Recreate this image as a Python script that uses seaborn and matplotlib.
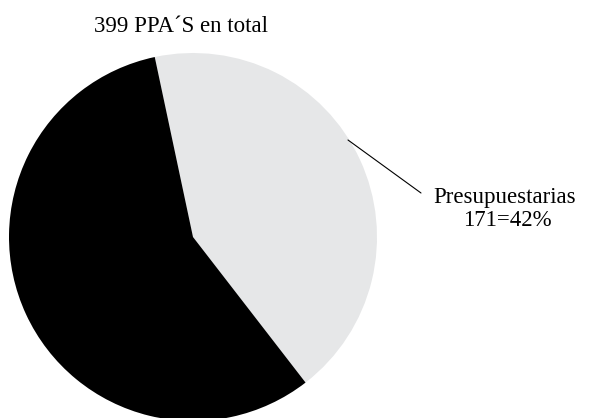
import matplotlib
matplotlib.use("Agg")
import matplotlib.pyplot as plt
import seaborn as sns

# Data
categories = ["Presupuestarias", "Otras"]
values = [171, 228]
total = 399
title_text = "399 PPA´S en total"
label_line1 = "Presupuestarias"
label_line2 = "171=42%"

sns.set_theme(style="white")
plt.rcParams['font.family'] = ['Liberation Serif', 'DejaVu Serif']

colors = ["#E6E7E8", "#000000"]

W, H = 591, 418
fig = plt.figure(figsize=(W / 100, H / 100), dpi=100)
fig.patch.set_facecolor("white")

cx, cy, r = 193, 418 - 237, 184
ax = fig.add_axes([(cx - r) / W, (cy - r) / H, 2 * r / W, 2 * r / H])
ax.pie(values, colors=colors, startangle=102, counterclock=False,
       radius=1, wedgeprops=dict(linewidth=0))
ax.set_xlim(-1, 1)
ax.set_ylim(-1, 1)
ax.set_aspect("equal")
ax.axis("off")
for p in ax.patches:
    p.set_clip_on(False)

def px(x, y):
    return ((x - 193) / r, (237 - y) / r)

ax.plot(*zip(px(348, 140), px(421, 193)), color="black", lw=0.8,
        clip_on=False)
ax.text(*px(505, 197), label_line1, ha="center", va="center", fontsize=16.5,
        color="black", clip_on=False)
ax.text(*px(507, 221), label_line2, ha="center", va="center", fontsize=16.5,
        color="black", clip_on=False)

fig.text(181 / W, 1 - 26 / H, title_text, ha="center", va="center",
         fontsize=16.5, color="black")

fig.savefig("out.png", dpi=100, facecolor="white")
